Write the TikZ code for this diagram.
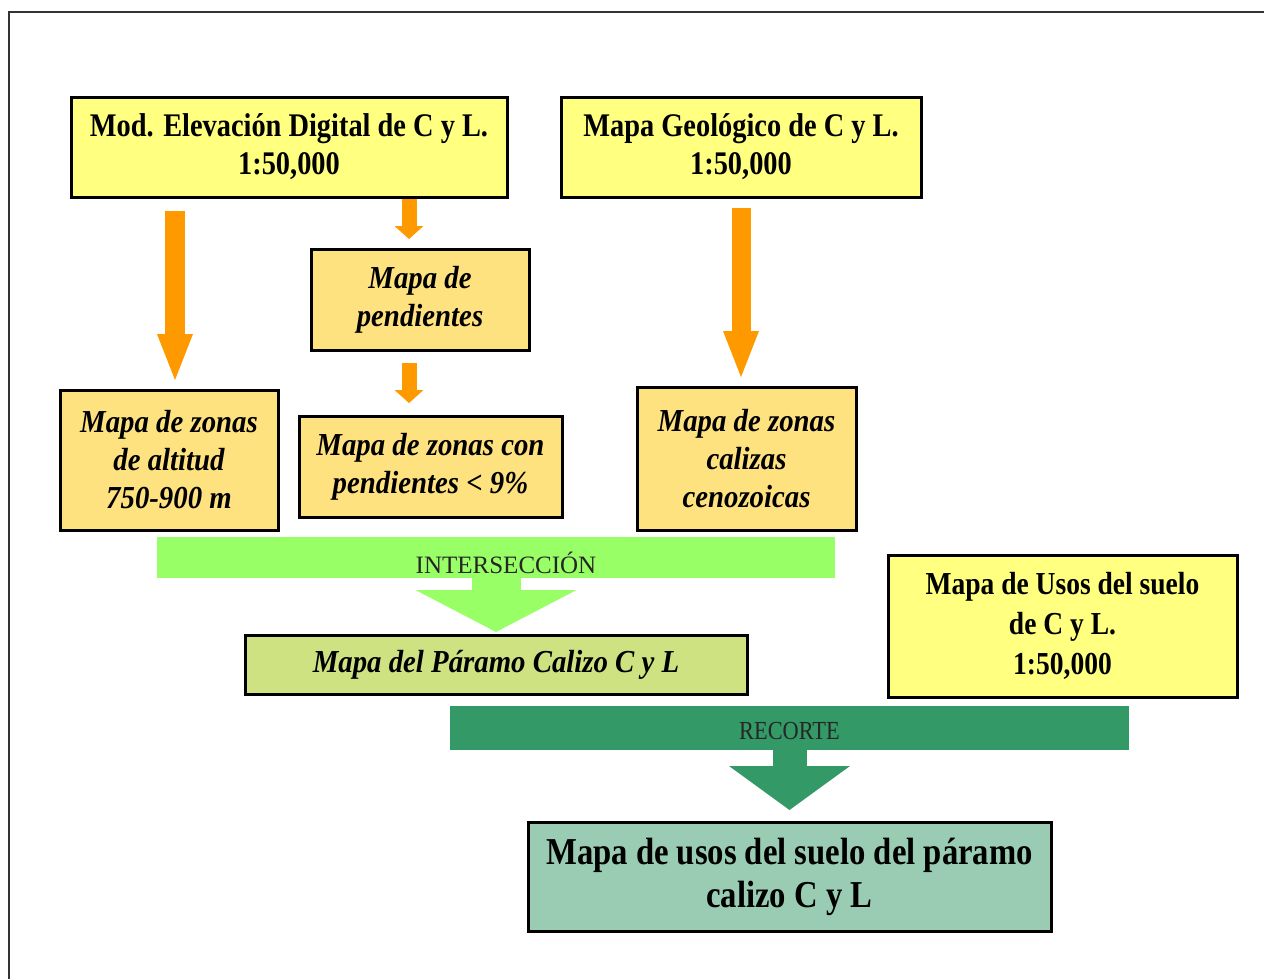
\documentclass[tikz,border=0pt]{standalone}
\usepackage{fontspec}
\setmainfont{Liberation Serif}
\newfontfamily\mapfont[FakeStretch=0.86]{Liberation Serif}
\newfontfamily\mapitfont[FakeStretch=0.9]{Liberation Serif}
\usetikzlibrary{arrows.meta}
\usetikzlibrary{calc}

\definecolor{mapyellow}{RGB}{255,255,128}
\definecolor{mapamber}{RGB}{255,226,128}
\definecolor{maporange}{RGB}{255,153,0}
\definecolor{maplightgreen}{RGB}{153,255,102}
\definecolor{mapolive}{RGB}{206,226,130}
\definecolor{mapdarkgreen}{RGB}{51,153,102}
\definecolor{mapseagreen}{RGB}{153,204,179}

\begin{document}
\begin{tikzpicture}[x=1pt, y=-1pt,
    sourcebox/.style={draw, line width=3pt, fill=mapyellow, align=center, inner sep=0pt,
        font=\mapfont\bfseries\fontsize{33}{38}\selectfont},
    zonebox/.style={draw, line width=3pt, fill=mapamber, align=center, inner sep=0pt,
        font=\mapitfont\bfseries\itshape\fontsize{32}{38}\selectfont},
    opbar/.style={inner sep=0pt, text depth=0pt, text=black!85},
    bigarrow/.style={draw=maporange, line width=20pt, -{Triangle[width=36pt, length=46pt, line width=0pt]}},
    smallarrow/.style={draw=maporange, line width=15pt, -{Triangle[width=29pt, length=13pt, line width=0pt]}}]

            \useasboundingbox (0,0) rectangle (1264,978);
            \clip (0,0) rectangle (1264,978);
            \draw[line width=2.5pt, black!80] (9,12) rectangle (1290,1000);

            % Nodes
            \node[sourcebox, minimum width=436pt, minimum height=100pt] (mde) at (289,147) {Mod. Elevación Digital de C y L.\\1:50,000};
            \node[sourcebox, minimum width=360pt, minimum height=100pt] (geo) at (741,147) {Mapa Geológico de C y L.\\1:50,000};
            \node[zonebox, minimum width=218pt, minimum height=101pt] (pend) at (420,299.5) {Mapa de\\pendientes};
            \node[zonebox, minimum width=218pt, minimum height=140pt] (alt) at (169,460) {Mapa de zonas\\de altitud\\750-900 m};
            \node[zonebox, minimum width=263pt, minimum height=101pt] (pendnueve) at (430.5,466.5) {Mapa de zonas con\\pendientes < 9\%};
            \node[zonebox, minimum width=219pt, minimum height=143pt] (cal) at (746.5,458.5) {Mapa de zonas\\calizas\\cenozoicas};
            \node[opbar, fill=maplightgreen, minimum width=678pt, minimum height=41pt, text height=31pt,
                font=\fontsize{25}{30}\selectfont] (inter) at (496,557.5) {\hspace*{20pt}INTERSECCIÓN};
            \node[zonebox, fill=mapolive, minimum width=502pt, minimum height=59pt] (paramo) at (496,664.5) {Mapa del Páramo Calizo C y L};
            \node[sourcebox, fill=mapyellow, minimum width=349pt, minimum height=142pt,
                font=\mapfont\bfseries\fontsize{32}{40}\selectfont] (usos) at (1062.5,626) {Mapa de Usos del suelo\\de C y L.\\1:50,000};
            \node[opbar, fill=mapdarkgreen, minimum width=679pt, minimum height=44pt, text height=22pt,
                font=\mapfont\fontsize{26}{30}\selectfont] (recorte) at (789.5,728) {RECORTE};
            \node[sourcebox, fill=mapseagreen, minimum width=523pt, minimum height=109pt,
                font=\mapfont\bfseries\fontsize{38}{43}\selectfont] (final) at (789.5,876.5) {Mapa de usos del suelo del páramo\\calizo C y L};

            % Lines
            \draw[bigarrow, shorten <=12.5pt, shorten >=8.5pt] ($(alt.north |- mde.south)+(6,0)$) -- ($(alt.north)+(6,0)$);
            \draw[smallarrow, shorten >=8.5pt] ($(pend.north |- mde.south)+(-11,0)$) -- ($(pend.north)+(-11,0)$);
            \draw[smallarrow, shorten <=11.5pt, shorten >=11.5pt] ($(pend.south)+(-11,0)$) -- ($(pend.south |- pendnueve.north)+(-11,0)$);
            \draw[bigarrow, line width=19pt, shorten <=9.5pt, shorten >=8.5pt] (geo.south) -- (geo.south |- cal.north);
            \draw[draw=maplightgreen, line width=49pt, -{Triangle[width=161pt, length=42pt, line width=0pt]}, shorten >=1.5pt] (inter.south) -- (paramo.north);
            \draw[draw=mapdarkgreen, line width=34pt, -{Triangle[width=121pt, length=44pt, line width=0pt]}, shorten >=10.5pt] (recorte.south) -- (final.north);

\end{tikzpicture}
\end{document}
